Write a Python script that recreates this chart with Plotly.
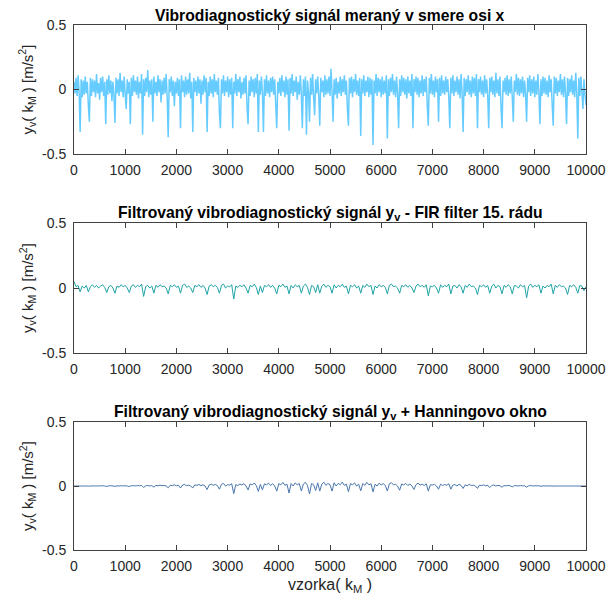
import plotly.graph_objects as go

# ---------------- data ----------------
raw_samples = list(range(0, 10001, 20))
raw_signal = [
    0.06,-0.03,0.09,-0.05,0.11,-0.02,-0.33,0.08,-0.06,0.07,-0.04,0.10,-0.03,0.06,-0.12,-0.25,0.09,-0.05,0.08,-0.02,
    0.07,-0.06,0.12,-0.03,0.05,-0.08,0.09,-0.02,0.10,-0.05,0.06,-0.27,0.08,-0.04,0.11,-0.03,0.07,-0.09,0.06,-0.04,
    -0.26,0.09,-0.03,0.08,-0.05,0.13,-0.02,0.07,-0.06,0.10,-0.04,-0.15,0.08,-0.03,0.06,-0.27,0.09,-0.05,0.11,-0.02,
    0.07,-0.04,0.10,-0.07,0.06,-0.03,0.12,-0.35,0.08,-0.05,0.09,-0.02,0.15,-0.06,0.07,-0.04,0.08,-0.25,0.10,-0.03,
    0.06,-0.05,0.11,-0.02,0.08,-0.10,0.07,-0.04,0.09,-0.03,0.12,-0.06,-0.37,0.08,-0.02,0.10,-0.05,0.07,-0.13,0.06,
    -0.03,0.09,-0.05,0.08,-0.30,0.11,-0.02,0.07,-0.06,0.10,-0.04,0.08,-0.03,0.13,-0.07,0.06,-0.33,0.09,-0.02,0.07,
    -0.05,0.10,-0.03,0.08,-0.11,0.07,-0.04,0.11,-0.02,0.09,-0.33,0.06,-0.05,0.10,-0.03,0.08,-0.06,0.12,-0.02,0.07,
    -0.04,0.09,-0.18,-0.30,0.08,-0.03,0.11,-0.05,0.07,-0.02,0.10,-0.06,0.08,-0.04,0.09,-0.30,0.06,-0.03,0.12,-0.05,
    0.08,-0.02,0.10,-0.07,0.06,-0.04,0.09,-0.03,0.11,-0.14,-0.27,0.07,-0.05,0.10,-0.02,0.08,-0.06,0.09,-0.03,0.12,
    -0.33,0.07,-0.04,0.10,-0.02,-0.33,0.08,-0.05,0.11,-0.03,0.07,-0.06,0.09,-0.02,0.10,-0.04,0.08,-0.12,-0.30,0.06,
    -0.03,0.09,-0.05,0.11,-0.02,0.07,-0.06,0.10,-0.04,0.08,-0.32,0.09,-0.03,0.12,-0.05,0.07,-0.02,0.10,-0.08,0.06,
    -0.04,0.11,-0.03,-0.30,0.08,-0.05,0.10,-0.35,0.07,-0.02,-0.25,0.09,-0.04,0.12,-0.06,-0.20,0.08,-0.03,0.10,-0.05,
    -0.28,0.09,-0.02,0.07,-0.06,0.11,-0.04,0.08,-0.03,0.10,-0.05,0.16,-0.02,-0.25,0.08,-0.04,0.09,-0.07,0.06,-0.03,
    0.10,-0.05,0.08,-0.02,0.11,-0.04,0.07,-0.15,-0.28,0.09,-0.03,0.10,-0.06,0.08,-0.02,0.12,-0.04,0.07,-0.05,0.09,
    -0.36,0.08,-0.03,0.11,-0.05,0.07,-0.02,0.10,-0.06,0.09,-0.04,0.08,-0.43,0.07,-0.03,0.12,-0.05,0.09,-0.02,0.08,
    -0.06,0.10,-0.04,0.07,-0.03,0.11,-0.38,0.08,-0.05,0.09,-0.02,0.12,-0.04,0.07,-0.06,0.10,-0.03,-0.30,0.08,-0.05,
    0.11,-0.02,0.09,-0.04,0.08,-0.07,0.10,-0.03,0.07,-0.05,0.12,-0.30,0.08,-0.02,0.10,-0.04,0.09,-0.06,0.07,-0.03,
    0.11,-0.05,0.08,-0.02,0.10,-0.13,-0.28,0.09,-0.03,0.12,-0.04,0.07,-0.06,0.10,-0.02,0.08,-0.25,0.09,-0.05,0.11,
    -0.03,0.07,-0.04,0.10,-0.02,0.08,-0.06,-0.30,0.09,-0.03,0.11,-0.05,0.07,-0.02,0.10,-0.04,0.08,-0.07,0.12,-0.03,
    -0.33,0.09,-0.05,0.08,-0.02,0.11,-0.04,0.07,-0.06,0.10,-0.03,0.09,-0.05,0.12,-0.30,0.08,-0.02,0.10,-0.04,0.07,
    -0.06,0.11,-0.03,0.08,-0.05,-0.30,0.09,-0.02,0.10,-0.04,0.07,-0.06,0.13,-0.03,0.08,-0.05,0.10,-0.14,-0.30,0.07,
    -0.02,0.09,-0.04,0.11,-0.05,0.08,-0.03,0.10,-0.06,-0.25,0.07,-0.02,0.12,-0.04,0.09,-0.05,0.08,-0.03,0.10,-0.06,
    0.07,-0.04,-0.25,0.09,-0.02,0.11,-0.05,0.08,-0.03,0.10,-0.06,0.07,-0.04,0.12,-0.02,-0.27,0.08,-0.05,0.10,-0.03,
    0.09,-0.04,0.07,-0.06,0.11,-0.02,0.08,-0.12,-0.28,0.10,-0.03,0.09,-0.05,0.07,-0.02,0.12,-0.04,0.08,-0.06,0.10,
    -0.03,-0.27,0.09,-0.05,0.08,-0.02,0.11,-0.04,0.07,-0.06,0.13,-0.03,-0.38,0.09,-0.05,0.10,-0.02,-0.15,0.08,-0.04,
    -0.12,
]

filt_samples = list(range(0, 10001, 40))
fir_signal = [
    0.05,0.01,0.02,-0.03,0.015,0.0,0.02,-0.03,0.01,0.025,0.005,0.02,0.0,0.015,0.025,0.005,-0.035,0.01,0.02,0.0,
    -0.04,0.015,0.005,0.025,0.01,0.02,0.0,-0.035,0.015,0.025,0.005,0.02,0.01,0.03,-0.065,0.01,0.02,0.0,0.015,-0.04,
    0.02,0.005,0.025,0.01,0.015,0.0,-0.045,0.02,0.01,0.025,0.005,0.015,-0.04,0.02,0.03,0.005,0.015,0.0,-0.035,0.02,
    0.01,0.025,0.005,0.02,0.0,-0.05,0.015,0.025,0.01,0.02,0.005,-0.04,0.02,0.03,0.0,0.015,0.01,0.025,-0.085,0.015,
    0.005,0.02,0.01,0.025,0.0,-0.04,0.02,0.01,0.03,0.005,-0.05,0.015,-0.035,0.02,0.01,0.025,0.005,0.02,0.0,-0.045,
    0.02,0.01,0.03,0.005,0.015,-0.045,0.02,0.0,0.025,0.01,0.02,-0.04,0.015,0.03,0.005,-0.05,0.02,0.01,-0.035,0.025,
    -0.04,0.015,0.03,0.005,0.02,0.01,-0.04,0.025,0.0,0.02,0.01,0.03,0.005,0.015,-0.045,0.02,0.01,0.025,0.0,0.015,
    -0.04,0.02,0.005,0.03,0.01,0.02,-0.05,0.015,0.0,0.025,0.01,0.02,0.005,-0.045,0.02,0.03,0.01,0.015,0.0,-0.04,
    0.02,0.01,0.025,0.005,0.02,0.0,-0.035,0.015,0.03,0.01,0.02,0.005,0.025,-0.06,0.015,0.01,0.02,0.0,-0.04,0.025,
    0.005,0.02,0.01,0.03,-0.045,0.015,0.02,0.0,0.025,0.01,-0.04,0.02,0.005,0.03,0.01,0.015,0.0,-0.05,0.02,0.01,
    0.025,0.005,0.02,-0.04,0.015,0.03,0.0,0.02,0.01,-0.045,0.02,0.005,0.025,0.01,-0.045,0.02,0.015,0.0,0.025,0.01,
    0.02,-0.075,0.015,0.03,0.005,0.02,0.01,0.025,-0.04,0.015,0.0,0.02,0.01,0.03,-0.045,0.02,0.005,0.025,0.01,0.015,
    0.0,-0.05,0.02,0.01,0.025,0.005,-0.04,0.02,0.015,-0.02,0.01,
]
hann_signal = [
    0.0,0.0,0.0,0.0,0.0,0.0,0.0,-0.001,0.0,0.001,0.0,0.001,0.0,0.001,0.002,0.0,-0.003,0.001,0.002,0.0,
    -0.0025,0.001,0.0,0.002,0.001,0.002,0.0,-0.004,0.002,0.003,0.001,0.003,0.002,0.005,-0.012,0.002,0.004,0.0,0.003,-0.009,
    0.005,0.001,0.006,0.003,0.004,0.0,-0.014,0.006,0.003,0.009,0.002,0.006,-0.016,0.008,0.012,0.002,0.007,0.0,-0.016,0.009,
    0.005,0.012,0.003,0.010,0.0,-0.028,0.008,0.014,0.006,0.012,0.003,-0.025,0.013,0.020,0.0,0.010,0.007,0.018,-0.060,0.011,
    0.004,0.015,0.008,0.019,0.0,-0.031,0.016,0.008,0.024,0.004,-0.042,0.013,-0.030,0.017,0.009,0.022,0.004,0.018,0.0,-0.040,
    0.018,0.009,0.028,0.005,0.014,-0.055,0.019,0.0,0.024,0.010,0.019,-0.039,0.015,0.029,0.005,-0.062,0.020,0.010,-0.035,0.025,
    -0.04,0.015,0.03,0.005,0.02,0.01,-0.04,0.025,0.0,0.02,0.01,0.03,0.005,0.015,-0.044,0.019,0.01,0.024,0.0,0.014,
    -0.038,0.019,0.005,0.028,0.009,0.018,-0.046,0.014,0.0,0.022,0.009,0.018,0.004,-0.039,0.017,0.026,0.009,0.013,0.0,-0.033,
    0.016,0.008,0.020,0.004,0.016,0.0,-0.027,0.011,0.022,0.007,0.014,0.004,0.017,-0.040,0.010,0.007,0.013,0.0,-0.025,0.015,
    0.003,0.012,0.006,0.017,-0.025,0.008,0.011,0.0,0.013,0.005,-0.019,0.009,0.002,0.013,0.004,0.006,0.0,-0.019,0.007,0.004,
    0.008,0.002,0.006,-0.012,0.004,0.008,0.0,0.005,0.002,-0.010,0.004,0.001,0.005,0.002,-0.007,0.003,0.002,0.0,0.003,0.001,
    0.002,-0.009,0.002,0.003,0.0,0.002,0.001,0.002,-0.002,0.001,0.0,0.001,0.0,0.001,-0.001,0.0,0.0,0.0,0.0,0.0,
    0.0,0.0,0.0,0.0,0.0,0.0,0.0,0.0,0.0,0.0,0.0,
]

x_ticks = [0, 1000, 2000, 3000, 4000, 5000, 6000, 7000, 8000, 9000, 10000]
x_tick_labels = ["0", "1000", "2000", "3000", "4000", "5000", "6000", "7000", "8000", "9000", "10000"]
y_ticks = [-0.5, 0, 0.5]
y_tick_labels = ["-0.5", "0", "0.5"]

titles = [
    "<b>Vibrodiagnostický signál meraný v smere osi x</b>",
    "<b>Filtrovaný vibrodiagnostický signál y<sub>v</sub> - FIR filter 15. rádu</b>",
    "<b>Filtrovaný vibrodiagnostický signál y<sub>v</sub> + Hanningovo okno</b>",
]
y_label = "y<sub>v</sub>( k<sub>M</sub> ) [m/s<sup>2</sup>]"
x_label = "vzorka( k<sub>M</sub> )"

# ---------------- layout ----------------
W, H = 615, 600
FONT = "Liberation Sans, Arial, Helvetica, sans-serif"
AX_COLOR = "#404040"
TXT = "#262626"

plot_px = [(25, 154), (223, 353), (422, 550)]  # top, bottom in px
x0px, x1px = 74, 586
xdom = [x0px / W, x1px / W]

fig = go.Figure()
series = [
    (raw_samples, raw_signal, "#66CCFF", 1.5),
    (filt_samples, fir_signal, "#1FA3A6", 1.0),
    (filt_samples, hann_signal, "#4A77AD", 1.0),
]
for i, (xs, ys, col, lw) in enumerate(series):
    sfx = "" if i == 0 else str(i + 1)
    fig.add_trace(go.Scatter(x=xs, y=ys, mode="lines",
                             line=dict(color=col, width=lw, simplify=False),
                             xaxis="x" + sfx, yaxis="y" + sfx, showlegend=False, hoverinfo="skip"))

annotations = []
for i, (tp, bp) in enumerate(plot_px):
    sfx = "" if i == 0 else str(i + 1)
    ydom = [1 - bp / H, 1 - tp / H]
    fig.layout["xaxis" + sfx] = dict(
        domain=xdom, range=[0, 10000], anchor="y" + sfx, automargin=False,
        tickvals=x_ticks, ticktext=x_tick_labels, ticklabelstandoff=3,
        ticks="inside", ticklen=5, tickcolor=AX_COLOR, mirror="ticks",
        showline=True, linecolor=AX_COLOR, linewidth=1, showgrid=False, zeroline=False,
        tickfont=dict(family=FONT, size=14, color=TXT),
    )
    fig.layout["yaxis" + sfx] = dict(
        domain=ydom, range=[-0.5, 0.5], anchor="x" + sfx, automargin=False,
        tickvals=y_ticks, ticktext=y_tick_labels, ticklabelstandoff=4,
        ticks="inside", ticklen=5, tickcolor=AX_COLOR, mirror="ticks",
        showline=True, linecolor=AX_COLOR, linewidth=1, showgrid=False, zeroline=False,
        tickfont=dict(family=FONT, size=14, color=TXT),
    )
    annotations.append(dict(text=titles[i], x=(x0px + x1px) / 2 / W, y=1 - (tp - 10) / H,
                            xref="paper", yref="paper", xanchor="center", yanchor="middle",
                            showarrow=False, font=dict(family=FONT, size=15.7, color="black")))
    annotations.append(dict(text=y_label, x=27 / W, y=1 - (tp + bp) / 2 / H,
                            xref="paper", yref="paper", xanchor="center", yanchor="middle",
                            textangle=-90, showarrow=False, font=dict(family=FONT, size=15, color=TXT)))

annotations.append(dict(text=x_label, x=(x0px + x1px) / 2 / W, y=1 - 585 / H,
                        xref="paper", yref="paper", xanchor="center", yanchor="middle",
                        showarrow=False, font=dict(family=FONT, size=16, color=TXT)))

fig.update_layout(
    width=W, height=H, margin=dict(l=0, r=0, t=0, b=0, autoexpand=False),
    paper_bgcolor="white", plot_bgcolor="white",
    annotations=annotations,
)

fig.write_html("out.html")
